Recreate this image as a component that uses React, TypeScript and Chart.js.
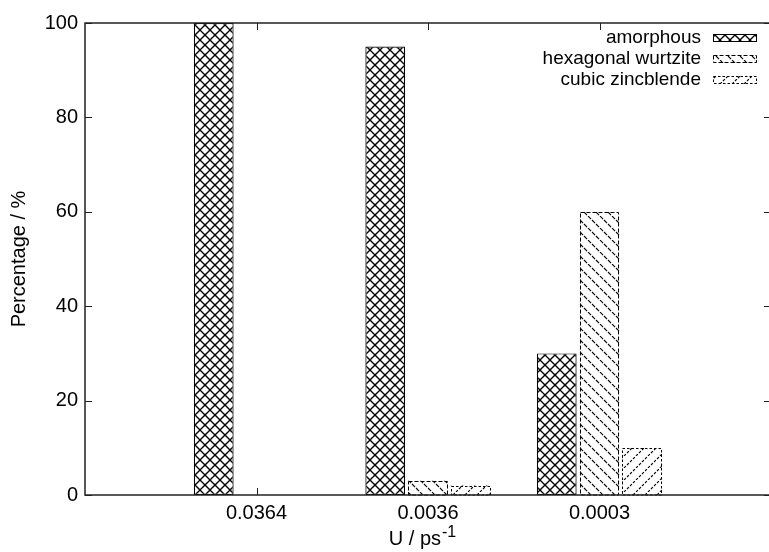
import React, { useEffect, useRef } from "react";
import { Chart, registerables } from "chart.js";

Chart.register(...registerables);

const categories = ["", "0.0364", "0.0036", "0.0003", ""];
const amorphous = [null, 100, 95, 30, null];
const hexagonal = [null, 0, 3, 60, null];
const cubic = [null, 0, 2, 10, null];
const seriesNames = ["amorphous", "hexagonal wurtzite", "cubic zincblende"];
const yMin = 0;
const yMax = 100;
const yStep = 20;
const xTitle = "U / ps";
const xTitleSup = "-1";
const yTitle = "Percentage / %";

const FONT = "'Liberation Sans', Arial, Helvetica, sans-serif";
const INK = "#000";

function makePattern(kind: string, size: number, dash: number[] | null, color: string, lw: number) {
  const c = document.createElement("canvas");
  c.width = size;
  c.height = size;
  const g = c.getContext("2d")!;
  g.fillStyle = "#fff";
  g.fillRect(0, 0, size, size);
  g.strokeStyle = color;
  g.lineWidth = lw;
  if (dash) g.setLineDash(dash);
  const back = () => {
    for (let k = -1; k <= 1; k++) {
      g.beginPath();
      g.moveTo(k * size, 0);
      g.lineTo(k * size + size, size);
      g.stroke();
    }
  };
  const fwd = () => {
    for (let k = -1; k <= 1; k++) {
      g.beginPath();
      g.moveTo(k * size, size);
      g.lineTo(k * size + size, 0);
      g.stroke();
    }
  };
  if (kind === "cross") {
    back();
    fwd();
  } else if (kind === "back") back();
  else fwd();
  return g.createPattern(c, "repeat")!;
}

export default function App() {
  const ref = useRef<HTMLCanvasElement | null>(null);

  useEffect(() => {
    const canvas = ref.current!;
    const diag12 = 12 * Math.SQRT2;
    const pCross = makePattern("cross", 10, null, INK, 1.35);
    const pBack = makePattern("back", 12, [diag12 / 3 - 1.3, 1.3], INK, 1.1);
    const pFwd = makePattern("fwd", 12, [diag12 / 4 - 1.6, 1.6], INK, 1.1);
    const fills = [pCross, pBack, pFwd];
    const borderDashes: (number[] | null)[] = [null, [4, 2], [2.5, 2]];

    const framePlugin = {
      id: "frame",
      beforeDatasetsDraw(chart: any) {
        const { ctx, chartArea: a, scales } = chart;
        ctx.save();
        ctx.strokeStyle = "#222";
        ctx.lineWidth = 1;
        const tl = 7;
        for (let v = yMin; v <= yMax; v += yStep) {
          const py = Math.round(scales.y.getPixelForValue(v)) + 0.5;
          ctx.beginPath();
          ctx.moveTo(a.left, py);
          ctx.lineTo(a.left + tl, py);
          ctx.moveTo(a.right, py);
          ctx.lineTo(a.right - tl, py);
          ctx.stroke();
        }
        categories.forEach((c, i) => {
          if (!c) return;
          const px = Math.round(scales.x.getPixelForValue(i)) + 0.5;
          ctx.beginPath();
          ctx.moveTo(px, a.bottom);
          ctx.lineTo(px, a.bottom - tl);
          ctx.moveTo(px, a.top);
          ctx.lineTo(px, a.top + tl);
          ctx.stroke();
        });
        ctx.restore();
      },
      afterDatasetsDraw(chart: any) {
        const { ctx, chartArea: a } = chart;
        ctx.save();
        [1, 2].forEach((di) => {
          const meta = chart.getDatasetMeta(di);
          meta.data.forEach((el: any, i: number) => {
            const v = chart.data.datasets[di].data[i];
            if (v == null || v <= 0) return;
            const p = el.getProps(["x", "y", "base", "width"], true);
            ctx.strokeStyle = INK;
            ctx.lineWidth = 1;
            ctx.setLineDash(borderDashes[di]!);
            const l = Math.round(p.x - p.width / 2) + 0.5;
            const r = Math.round(p.x + p.width / 2) - 0.5;
            const t = Math.round(p.y) + 0.5;
            ctx.strokeRect(l, t, r - l, p.base - t);
          });
        });
        ctx.setLineDash([]);
        ctx.strokeStyle = "#222";
        ctx.lineWidth = 1.5;
        ctx.strokeRect(a.left, a.top, a.right - a.left, a.bottom - a.top);
        ctx.restore();
      },
      afterDraw(chart: any) {
        const { ctx, chartArea: a } = chart;
        ctx.save();
        ctx.fillStyle = "#000";
        ctx.font = `20px ${FONT}`;
        ctx.textAlign = "center";
        ctx.textBaseline = "middle";
        ctx.save();
        ctx.translate(19, (a.top + a.bottom) / 2);
        ctx.rotate(-Math.PI / 2);
        ctx.fillText(yTitle, 0, 0);
        ctx.restore();
        ctx.textAlign = "left";
        ctx.textBaseline = "alphabetic";
        ctx.font = `20px ${FONT}`;
        const w1 = ctx.measureText(xTitle).width;
        ctx.font = `16px ${FONT}`;
        const w2 = ctx.measureText(xTitleSup).width;
        const cx = (a.left + a.right) / 2 - 6;
        const x0 = cx - (w1 + w2) / 2;
        const base = 545;
        ctx.font = `20px ${FONT}`;
        ctx.fillText(xTitle, x0, base);
        ctx.font = `16px ${FONT}`;
        ctx.fillText(xTitleSup, x0 + w1 + 1, base - 8);
        const rows = [38, 59, 80];
        ctx.font = `19px ${FONT}`;
        ctx.textAlign = "right";
        ctx.textBaseline = "middle";
        seriesNames.forEach((name, i) => {
          const cy = rows[i];
          ctx.fillStyle = "#000";
          ctx.fillText(name, 701, cy);
          const bx = 713, bw = 44, by = cy - 4, bh = 8;
          ctx.fillStyle = fills[i];
          ctx.fillRect(bx, by, bw, bh);
          ctx.strokeStyle = INK;
          ctx.lineWidth = 1;
          ctx.setLineDash(borderDashes[i] || []);
          ctx.strokeRect(bx + 0.5, by + 0.5, bw - 1, bh - 1);
          ctx.setLineDash([]);
        });
        ctx.restore();
      },
    };

    const mk = (label: string, data: any[], i: number) => ({
      label,
      data,
      backgroundColor: fills[i],
      borderColor: INK,
      borderWidth: i === 0 ? 1.2 : 0,
      borderSkipped: false,
      inflateAmount: 0,
      categoryPercentage: 0.748,
      barPercentage: 0.93,
    });

    const chart = new Chart(canvas, {
      type: "bar",
      data: {
        labels: categories,
        datasets: [
          mk(seriesNames[0], amorphous, 0),
          mk(seriesNames[1], hexagonal, 1),
          mk(seriesNames[2], cubic, 2),
        ],
      },
      options: {
        responsive: false,
        animation: false,
        devicePixelRatio: 1,
        layout: { padding: { top: 23, right: 2, left: 0, bottom: 0 } },
        plugins: { legend: { display: false }, tooltip: { enabled: false } },
        scales: {
          x: {
            type: "category",
            offset: false,
            grid: { display: false, drawTicks: false },
            border: { display: false },
            ticks: {
              autoSkip: false,
              maxRotation: 0,
              minRotation: 0,
              padding: 6,
              color: "#000",
              font: { family: FONT, size: 20 },
            },
            afterFit: (s: any) => {
              s.height = 57;
            },
          },
          y: {
            min: yMin,
            max: yMax,
            grid: { display: false, drawTicks: false },
            border: { display: false },
            ticks: {
              stepSize: yStep,
              padding: 7,
              color: "#000",
              font: { family: FONT, size: 20 },
            },
            afterFit: (s: any) => {
              s.width = 85;
            },
          },
        },
      },
      plugins: [framePlugin],
    } as any);
    return () => chart.destroy();
  }, []);

  return (
    <div
      style={{
        position: "absolute",
        left: 0,
        top: 0,
        width: 769,
        height: 552,
        overflow: "hidden",
        background: "#fff",
      }}
    >
      <canvas ref={ref} width={777} height={552} style={{ display: "block", width: 777, height: 552 }} />
    </div>
  );
}
